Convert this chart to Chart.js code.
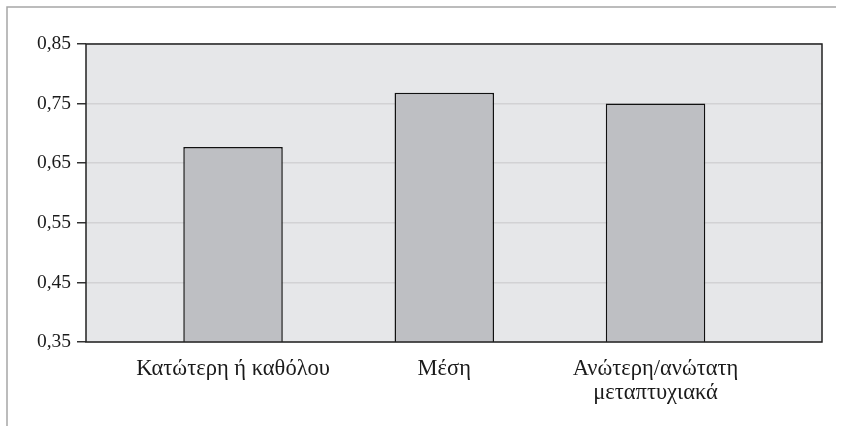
<!DOCTYPE html>
<html>
<head>
<meta charset="utf-8">
<script src="https://cdn.jsdelivr.net/npm/chart.js@4.4.0/dist/chart.umd.min.js"></script>
<style>
html,body{margin:0;padding:0;background:#fff;}
#wrap{position:relative;width:845px;height:426px;}
</style>
</head>
<body>
<div id="wrap"><canvas id="c" width="845" height="426"></canvas></div>
<script>
const categories = [["Κατώτερη ή καθόλου"], ["Μέση"], ["Ανώτερη/ανώτατη", "μεταπτυχιακά"]];
const values = [0.677, 0.768, 0.750];
const yTicks = [0.35, 0.45, 0.55, 0.65, 0.75, 0.85];

const FONT = "'Liberation Serif', 'Times New Roman', serif";

const framePlugin = {
  id: 'frame',
  beforeDraw(chart) {
    const ctx = chart.ctx, a = chart.chartArea;
    ctx.save();
    ctx.strokeStyle = '#a6a6a6';
    ctx.lineWidth = 1.5;
    ctx.beginPath();
    ctx.moveTo(7, 430);
    ctx.lineTo(7, 7);
    ctx.lineTo(836, 7);
    ctx.stroke();
    ctx.fillStyle = '#e6e7e9';
    ctx.fillRect(a.left, a.top, a.right - a.left, a.bottom - a.top);
    ctx.restore();
  },
  afterDraw(chart) {
    const ctx = chart.ctx, a = chart.chartArea;
    ctx.save();
    ctx.strokeStyle = '#222';
    ctx.lineWidth = 1.5;
    ctx.strokeRect(a.left, a.top, a.right - a.left, a.bottom - a.top);
    ctx.restore();
  }
};

new Chart(document.getElementById('c'), {
  type: 'bar',
  data: {
    datasets: [{
      data: values.map((v, i) => ({x: i, y: v})),
      backgroundColor: '#bebfc3',
      borderColor: '#111',
      borderWidth: 1.5,
      borderSkipped: false,
      categoryPercentage: 1,
      barPercentage: 0.471
    }]
  },
  options: {
    responsive: false,
    animation: false,
    layout: { padding: { top: 44, right: 23, left: 0, bottom: 0 } },
    plugins: { legend: { display: false }, tooltip: { enabled: false } },
    scales: {
      x: {
        type: 'linear',
        offset: false,
        min: -0.696,
        max: 2.788,
        afterBuildTicks(scale) { scale.ticks = categories.map((_, i) => ({value: i})); },
        afterFit(scale) { scale.height = 84; },
        grid: { display: false, drawTicks: false },
        border: { display: false },
        ticks: {
          autoSkip: false,
          maxRotation: 0,
          padding: 15,
          color: '#1a1a1a',
          font: { family: FONT, size: 22.5, lineHeight: 1.07 },
          callback: (v) => categories[v]
        }
      },
      y: {
        min: 0.35,
        max: 0.85,
        afterBuildTicks(scale) { scale.ticks = yTicks.map(v => ({value: v})); },
        afterFit(scale) { scale.width = 86; },
        grid: { color: '#d2d2d4', lineWidth: 1.5, tickColor: '#333', tickLength: 9, drawTicks: true },
        border: { display: false },
        ticks: {
          padding: 6,
          color: '#1a1a1a',
          font: { family: FONT, size: 19.5 },
          callback: (v) => v.toFixed(2).replace('.', ',')
        }
      }
    }
  },
  plugins: [framePlugin]
});
</script>
</body>
</html>
